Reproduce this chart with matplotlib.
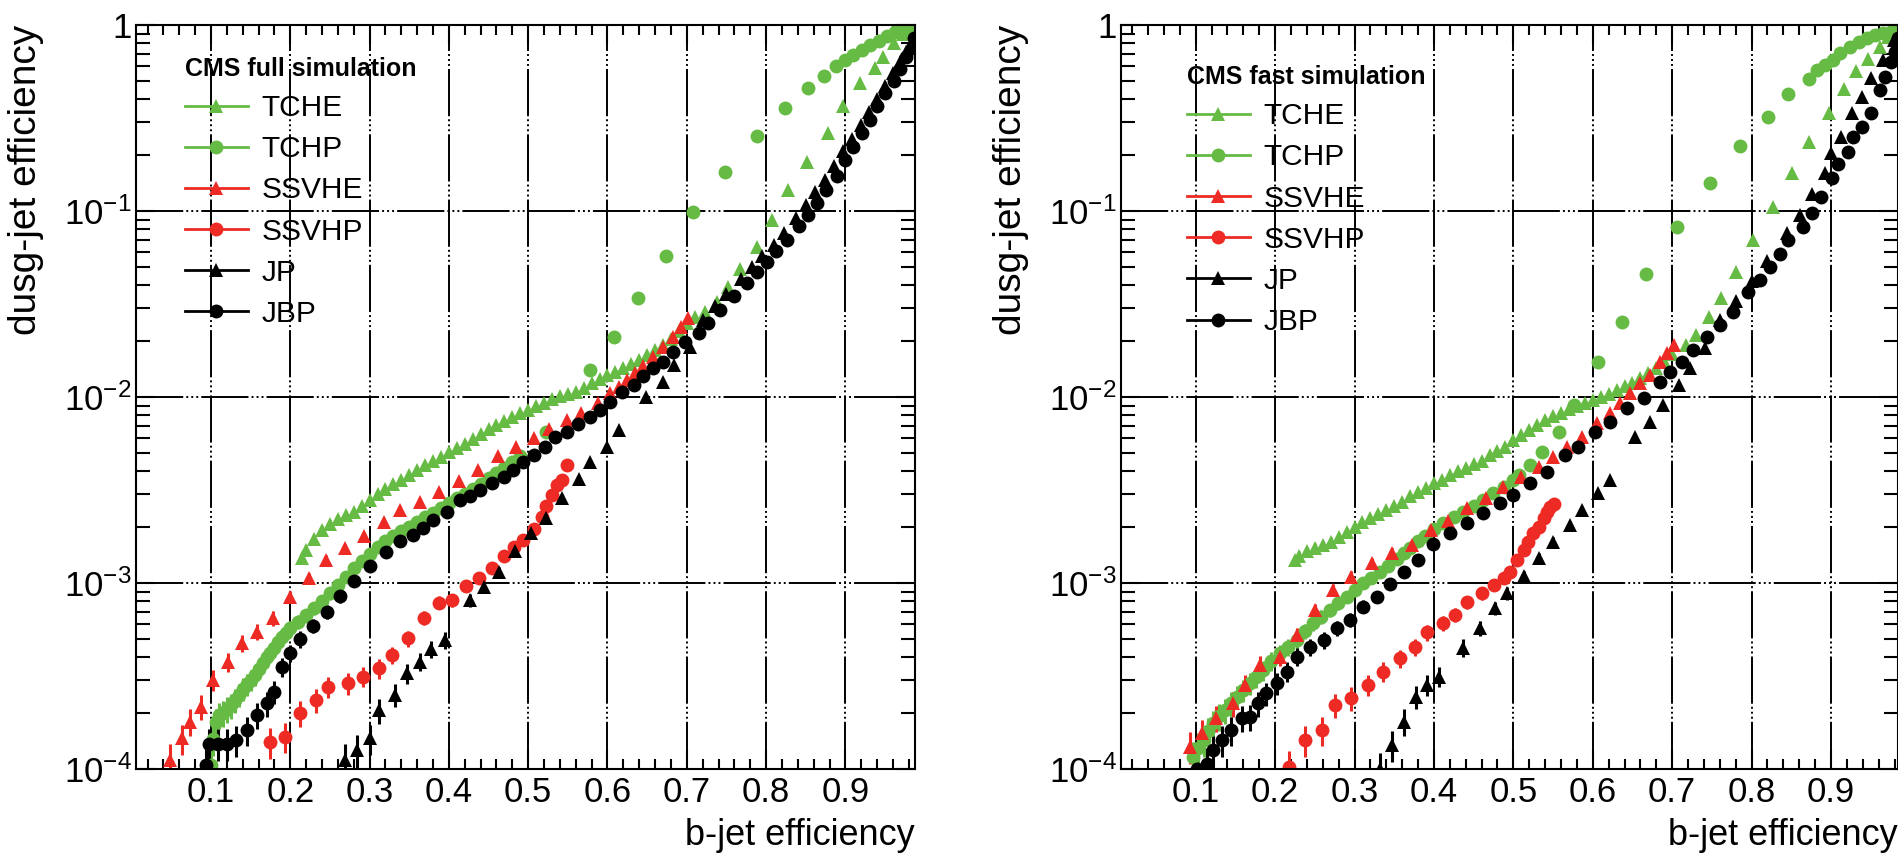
"""
b-tagging performance: light-jet mistag rate vs b-jet efficiency,
CMS full simulation (left) and fast simulation (right).
"""

import matplotlib.pyplot as plt
import numpy as np
from matplotlib.lines import Line2D
from matplotlib.ticker import LogLocator, MultipleLocator, NullFormatter

plt.rcParams["font.family"] = ["Liberation Sans", "DejaVu Sans"]
plt.rcParams["mathtext.fontset"] = "custom"
plt.rcParams["mathtext.rm"] = "Liberation Sans"
plt.rcParams["mathtext.it"] = "Liberation Sans:italic"
plt.rcParams["mathtext.bf"] = "Liberation Sans:bold"
plt.rcParams["lines.scale_dashes"] = False

# %% Full simulation
full_tche_x = [0.215, 0.22, 0.23, 0.24, 0.25, 0.26, 0.27, 0.28, 0.29, 0.30,
               0.31, 0.32, 0.33, 0.34, 0.35, 0.36, 0.37, 0.38, 0.39, 0.40,
               0.41, 0.42, 0.43, 0.44, 0.45, 0.46, 0.47, 0.48, 0.49, 0.50,
               0.51, 0.52, 0.53, 0.54, 0.55, 0.56, 0.57, 0.58, 0.59, 0.60,
               0.61, 0.62, 0.63, 0.64, 0.65, 0.66, 0.67, 0.68, 0.69, 0.70,
               0.710, 0.723, 0.738, 0.752, 0.767, 0.788, 0.807, 0.828, 0.852,
               0.878, 0.897, 0.918, 0.937, 0.947, 0.961, 0.973, 0.982]
full_tche_y = [1.36e-3, 1.50e-3, 1.72e-3, 1.92e-3, 2.08e-3, 2.22e-3, 2.32e-3,
               2.42e-3, 2.58e-3, 2.78e-3, 3.00e-3, 3.22e-3, 3.42e-3, 3.60e-3,
               3.82e-3, 4.05e-3, 4.30e-3, 4.55e-3, 4.78e-3, 5.05e-3, 5.30e-3,
               5.60e-3, 5.95e-3, 6.35e-3, 6.70e-3, 7.05e-3, 7.45e-3, 7.85e-3,
               8.20e-3, 8.50e-3, 8.90e-3, 9.30e-3, 9.70e-3, 1.01e-2, 1.04e-2,
               1.07e-2, 1.12e-2, 1.19e-2, 1.25e-2, 1.31e-2, 1.37e-2, 1.43e-2,
               1.50e-2, 1.58e-2, 1.68e-2, 1.79e-2, 1.90e-2, 2.05e-2, 2.25e-2,
               2.50e-2, 2.70e-2, 2.88e-2, 3.25e-2, 3.90e-2, 4.90e-2, 6.40e-2,
               8.95e-2, 0.130, 0.184, 0.264, 0.367, 0.486, 0.585, 0.676, 0.80,
               0.90, 0.95]

full_tchp_x = [0.100, 0.103, 0.106, 0.110, 0.115, 0.120, 0.125, 0.130, 0.135,
               0.140, 0.145, 0.150, 0.155, 0.160, 0.165, 0.170, 0.175, 0.180,
               0.185, 0.190, 0.195, 0.200, 0.210, 0.220, 0.230, 0.240, 0.250,
               0.260, 0.270, 0.280, 0.290, 0.300, 0.310, 0.320, 0.330, 0.340,
               0.350, 0.360, 0.370, 0.380, 0.390, 0.400, 0.410, 0.420, 0.430,
               0.440, 0.450, 0.460, 0.470, 0.480, 0.490, 0.523, 0.578, 0.608,
               0.638, 0.674, 0.708, 0.748, 0.789, 0.824, 0.853, 0.873, 0.888,
               0.900, 0.910, 0.921, 0.931, 0.942, 0.952, 0.963, 0.971, 0.982]
full_tchp_y = [1.05e-4, 1.45e-4, 1.80e-4, 1.95e-4, 2.00e-4, 2.10e-4, 2.20e-4,
               2.35e-4, 2.50e-4, 2.70e-4, 2.85e-4, 3.00e-4, 3.20e-4, 3.45e-4,
               3.70e-4, 4.00e-4, 4.20e-4, 4.50e-4, 4.80e-4, 5.10e-4, 5.40e-4,
               5.70e-4, 6.20e-4, 6.70e-4, 7.30e-4, 8.00e-4, 8.80e-4, 9.70e-4,
               1.08e-3, 1.20e-3, 1.32e-3, 1.44e-3, 1.56e-3, 1.68e-3, 1.80e-3,
               1.90e-3, 2.00e-3, 2.12e-3, 2.25e-3, 2.38e-3, 2.52e-3, 2.68e-3,
               2.85e-3, 3.02e-3, 3.22e-3, 3.42e-3, 3.65e-3, 3.90e-3, 4.15e-3,
               4.45e-3, 4.80e-3, 6.50e-3, 1.40e-2, 2.10e-2, 3.40e-2, 5.70e-2,
               9.90e-2, 0.163, 0.253, 0.357, 0.457, 0.533, 0.604, 0.648, 0.690,
               0.735, 0.780, 0.820, 0.870, 0.920, 0.950, 0.970]

full_ssvhe_x = [0.048, 0.063, 0.074, 0.088, 0.103, 0.122, 0.139, 0.158, 0.178,
                0.199, 0.224, 0.245, 0.269, 0.293, 0.318, 0.338, 0.364, 0.388,
                0.413, 0.437, 0.462, 0.484, 0.507, 0.526, 0.549, 0.567, 0.588,
                0.603, 0.614, 0.624, 0.635, 0.645, 0.658, 0.670, 0.683, 0.693,
                0.702]
full_ssvhe_y = [1.12e-4, 1.46e-4, 1.80e-4, 2.16e-4, 3.00e-4, 3.77e-4, 4.74e-4,
                5.47e-4, 6.46e-4, 8.43e-4, 1.06e-3, 1.33e-3, 1.54e-3, 1.79e-3,
                2.14e-3, 2.47e-3, 2.74e-3, 3.10e-3, 3.52e-3, 4.07e-3, 4.80e-3,
                5.40e-3, 6.00e-3, 6.70e-3, 7.50e-3, 8.20e-3, 9.25e-3, 1.05e-2,
                1.13e-2, 1.23e-2, 1.34e-2, 1.46e-2, 1.65e-2, 1.86e-2, 2.10e-2,
                2.39e-2, 2.65e-2]

full_ssvhp_x = [0.174, 0.193, 0.212, 0.233, 0.248, 0.273, 0.292, 0.312, 0.328,
                0.349, 0.368, 0.387, 0.404, 0.422, 0.438, 0.454, 0.469, 0.482,
                0.494, 0.507, 0.517, 0.523, 0.530, 0.536, 0.542, 0.549]
full_ssvhp_y = [1.40e-4, 1.49e-4, 2.00e-4, 2.35e-4, 2.77e-4, 2.89e-4, 3.14e-4,
                3.47e-4, 4.10e-4, 5.05e-4, 6.50e-4, 7.85e-4, 8.10e-4, 9.65e-4,
                1.07e-3, 1.20e-3, 1.40e-3, 1.57e-3, 1.70e-3, 1.95e-3, 2.27e-3,
                2.60e-3, 2.97e-3, 3.37e-3, 3.58e-3, 4.30e-3]

full_jp_x = [0.269, 0.284, 0.300, 0.312, 0.332, 0.347, 0.364, 0.378, 0.395,
             0.427, 0.444, 0.463, 0.483, 0.503, 0.522, 0.542, 0.564, 0.578,
             0.599, 0.614, 0.649, 0.670, 0.684, 0.704, 0.720, 0.735, 0.750,
             0.768, 0.782, 0.795, 0.810, 0.822, 0.838, 0.850, 0.862, 0.874,
             0.886, 0.897, 0.908, 0.920, 0.930, 0.940, 0.950, 0.960, 0.969,
             0.977, 0.984]
full_jp_y = [1.12e-4, 1.27e-4, 1.46e-4, 2.07e-4, 2.50e-4, 3.27e-4, 3.78e-4,
             4.40e-4, 4.94e-4, 8.10e-4, 9.55e-4, 1.14e-3, 1.48e-3, 1.85e-3,
             2.23e-3, 2.88e-3, 3.62e-3, 4.49e-3, 5.40e-3, 6.65e-3, 1.00e-2,
             1.21e-2, 1.49e-2, 1.86e-2, 2.60e-2, 3.10e-2, 3.60e-2, 4.30e-2,
             5.00e-2, 5.70e-2, 6.60e-2, 7.60e-2, 9.20e-2, 0.108, 0.126, 0.146,
             0.175, 0.210, 0.245, 0.290, 0.340, 0.400, 0.470, 0.550, 0.630,
             0.720, 0.800]

full_jbp_x = [0.094, 0.097, 0.109, 0.120, 0.132, 0.145, 0.158, 0.170, 0.179,
              0.189, 0.200, 0.212, 0.229, 0.246, 0.263, 0.280, 0.300, 0.321,
              0.338, 0.355, 0.367, 0.380, 0.397, 0.414, 0.427, 0.439, 0.454,
              0.469, 0.481, 0.494, 0.507, 0.521, 0.534, 0.549, 0.563, 0.578,
              0.591, 0.603, 0.618, 0.633, 0.645, 0.658, 0.670, 0.683, 0.698,
              0.715, 0.727, 0.742, 0.759, 0.776, 0.788, 0.801, 0.813, 0.826,
              0.841, 0.853, 0.864, 0.876, 0.889, 0.900, 0.910, 0.921, 0.931,
              0.940, 0.950, 0.961, 0.969, 0.977, 0.984, 0.987]
full_jbp_y = [1.05e-4, 1.37e-4, 1.37e-4, 1.37e-4, 1.43e-4, 1.62e-4, 1.95e-4,
              2.25e-4, 2.60e-4, 3.55e-4, 4.20e-4, 5.00e-4, 5.90e-4, 7.00e-4,
              8.50e-4, 1.03e-3, 1.23e-3, 1.46e-3, 1.68e-3, 1.82e-3, 1.97e-3,
              2.18e-3, 2.42e-3, 2.79e-3, 2.95e-3, 3.16e-3, 3.43e-3, 3.73e-3,
              4.05e-3, 4.49e-3, 4.88e-3, 5.40e-3, 6.12e-3, 6.50e-3, 7.20e-3,
              7.80e-3, 8.50e-3, 9.45e-3, 1.07e-2, 1.16e-2, 1.29e-2, 1.43e-2,
              1.55e-2, 1.75e-2, 1.98e-2, 2.20e-2, 2.50e-2, 2.95e-2, 3.50e-2,
              4.10e-2, 4.70e-2, 5.30e-2, 6.10e-2, 7.00e-2, 8.30e-2, 9.50e-2,
              0.110, 0.130, 0.155, 0.188, 0.222, 0.262, 0.310, 0.365, 0.430,
              0.500, 0.580, 0.670, 0.750, 0.850]

# %% Fast simulation
fast_tche_x = [0.225, 0.23, 0.24, 0.25, 0.26, 0.27, 0.28, 0.29, 0.30, 0.31,
               0.32, 0.33, 0.34, 0.35, 0.36, 0.37, 0.38, 0.39, 0.40, 0.41,
               0.42, 0.43, 0.44, 0.45, 0.46, 0.47, 0.48, 0.49, 0.50, 0.51,
               0.52, 0.53, 0.54, 0.55, 0.56, 0.57, 0.58, 0.59, 0.60, 0.61,
               0.62, 0.63, 0.64, 0.65, 0.66, 0.67, 0.68, 0.69, 0.70, 0.717,
               0.730, 0.746, 0.762, 0.781, 0.802, 0.827, 0.851, 0.872, 0.897,
               0.916, 0.932, 0.947, 0.962, 0.972, 0.979]
fast_tche_y = [1.33e-3, 1.40e-3, 1.48e-3, 1.55e-3, 1.60e-3, 1.67e-3, 1.76e-3,
               1.88e-3, 2.01e-3, 2.12e-3, 2.23e-3, 2.36e-3, 2.47e-3, 2.60e-3,
               2.74e-3, 2.92e-3, 3.08e-3, 3.25e-3, 3.43e-3, 3.60e-3, 3.80e-3,
               3.98e-3, 4.14e-3, 4.35e-3, 4.55e-3, 4.85e-3, 5.10e-3, 5.40e-3,
               5.87e-3, 6.25e-3, 6.65e-3, 7.07e-3, 7.50e-3, 7.90e-3, 8.25e-3,
               8.60e-3, 8.95e-3, 9.30e-3, 9.65e-3, 1.00e-2, 1.04e-2, 1.09e-2,
               1.14e-2, 1.19e-2, 1.26e-2, 1.34e-2, 1.44e-2, 1.56e-2, 1.70e-2,
               1.90e-2, 2.15e-2, 2.68e-2, 3.40e-2, 4.72e-2, 6.98e-2, 0.105,
               0.160, 0.236, 0.335, 0.451, 0.566, 0.655, 0.760, 0.860, 0.920]

fast_tchp_x = [0.097, 0.103, 0.110, 0.116, 0.122, 0.129, 0.137, 0.144, 0.152,
               0.160, 0.168, 0.176, 0.185, 0.195, 0.206, 0.216, 0.227, 0.237,
               0.248, 0.258, 0.269, 0.279, 0.290, 0.300, 0.311, 0.321, 0.332,
               0.342, 0.353, 0.362, 0.370, 0.380, 0.389, 0.400, 0.412, 0.425,
               0.437, 0.450, 0.462, 0.475, 0.488, 0.500, 0.507, 0.521, 0.536,
               0.557, 0.576, 0.606, 0.637, 0.667, 0.706, 0.748, 0.786, 0.821,
               0.846, 0.872, 0.882, 0.893, 0.903, 0.911, 0.924, 0.935, 0.945,
               0.956, 0.966, 0.977]
fast_tchp_y = [1.16e-4, 1.30e-4, 1.43e-4, 1.60e-4, 1.76e-4, 1.92e-4, 2.07e-4,
               2.25e-4, 2.45e-4, 2.65e-4, 2.89e-4, 3.12e-4, 3.40e-4, 3.80e-4,
               4.19e-4, 4.55e-4, 4.94e-4, 5.50e-4, 6.07e-4, 6.60e-4, 7.16e-4,
               7.80e-4, 8.43e-4, 9.20e-4, 9.95e-4, 1.07e-3, 1.14e-3, 1.24e-3,
               1.35e-3, 1.45e-3, 1.55e-3, 1.68e-3, 1.80e-3, 1.95e-3, 2.10e-3,
               2.25e-3, 2.42e-3, 2.60e-3, 2.80e-3, 3.05e-3, 3.30e-3, 3.60e-3,
               3.80e-3, 4.30e-3, 5.08e-3, 6.50e-3, 9.06e-3, 1.55e-2, 2.54e-2,
               4.58e-2, 8.24e-2, 0.142, 0.224, 0.321, 0.424, 0.510, 0.573,
               0.610, 0.648, 0.705, 0.766, 0.810, 0.850, 0.880, 0.910, 0.930]

fast_ssvhe_x = [0.093, 0.108, 0.126, 0.147, 0.162, 0.181, 0.206, 0.227, 0.250,
                0.273, 0.296, 0.322, 0.347, 0.372, 0.396, 0.418, 0.441, 0.465,
                0.487, 0.510, 0.532, 0.550, 0.567, 0.586, 0.605, 0.622, 0.634,
                0.647, 0.660, 0.672, 0.685, 0.693, 0.702]
fast_ssvhe_y = [1.32e-4, 1.56e-4, 1.88e-4, 2.25e-4, 2.83e-4, 3.62e-4, 4.02e-4,
                5.25e-4, 7.16e-4, 9.17e-4, 1.08e-3, 1.28e-3, 1.45e-3, 1.60e-3,
                1.93e-3, 2.16e-3, 2.52e-3, 2.88e-3, 3.30e-3, 3.70e-3, 4.22e-3,
                4.78e-3, 5.40e-3, 6.12e-3, 7.22e-3, 8.17e-3, 9.25e-3, 1.05e-2,
                1.19e-2, 1.31e-2, 1.55e-2, 1.72e-2, 1.90e-2]

fast_ssvhp_x = [0.217, 0.238, 0.259, 0.276, 0.296, 0.317, 0.336, 0.357, 0.376,
                0.391, 0.411, 0.427, 0.442, 0.461, 0.476, 0.488, 0.496, 0.504,
                0.513, 0.519, 0.525, 0.532, 0.538, 0.542, 0.546, 0.551]
fast_ssvhp_y = [1.03e-4, 1.43e-4, 1.62e-4, 2.21e-4, 2.40e-4, 2.83e-4, 3.33e-4,
                3.93e-4, 4.55e-4, 5.42e-4, 6.07e-4, 6.75e-4, 7.92e-4, 8.80e-4,
                9.70e-4, 1.06e-3, 1.15e-3, 1.33e-3, 1.50e-3, 1.67e-3, 1.85e-3,
                2.01e-3, 2.23e-3, 2.41e-3, 2.57e-3, 2.66e-3]

fast_jp_x = [0.332, 0.347, 0.362, 0.378, 0.391, 0.406, 0.437, 0.458, 0.477,
             0.492, 0.513, 0.532, 0.550, 0.571, 0.586, 0.607, 0.622, 0.653,
             0.672, 0.688, 0.708, 0.723, 0.741, 0.760, 0.780, 0.800, 0.820,
             0.845, 0.861, 0.876, 0.893, 0.900, 0.913, 0.926, 0.939, 0.951,
             0.966, 0.979]
fast_jp_y = [1.00e-4, 1.35e-4, 1.80e-4, 2.45e-4, 2.83e-4, 3.14e-4, 4.50e-4,
             5.70e-4, 7.31e-4, 8.80e-4, 1.09e-3, 1.36e-3, 1.67e-3, 2.05e-3,
             2.47e-3, 3.03e-3, 3.58e-3, 6.12e-3, 7.36e-3, 9.06e-3, 1.16e-2,
             1.43e-2, 1.83e-2, 2.60e-2, 3.30e-2, 4.20e-2, 5.40e-2, 7.60e-2,
             9.50e-2, 0.124, 0.160, 0.204, 0.250, 0.335, 0.412, 0.516, 0.648,
             0.830]

fast_jbp_x = [0.101, 0.114, 0.122, 0.133, 0.145, 0.158, 0.168, 0.179, 0.189,
              0.202, 0.215, 0.227, 0.244, 0.261, 0.278, 0.294, 0.311, 0.328,
              0.345, 0.362, 0.380, 0.399, 0.420, 0.441, 0.462, 0.483, 0.500,
              0.521, 0.542, 0.565, 0.582, 0.603, 0.622, 0.643, 0.664, 0.685,
              0.697, 0.712, 0.726, 0.744, 0.760, 0.777, 0.796, 0.811, 0.823,
              0.836, 0.846, 0.865, 0.876, 0.888, 0.901, 0.909, 0.922, 0.928,
              0.939, 0.951, 0.962, 0.968, 0.975, 0.980, 0.984]
fast_jbp_y = [1.00e-4, 1.07e-4, 1.26e-4, 1.43e-4, 1.62e-4, 1.88e-4, 1.91e-4,
              2.25e-4, 2.55e-4, 2.89e-4, 3.33e-4, 4.02e-4, 4.55e-4, 4.94e-4,
              5.70e-4, 6.33e-4, 7.47e-4, 8.43e-4, 9.90e-4, 1.15e-3, 1.33e-3,
              1.63e-3, 1.85e-3, 2.09e-3, 2.37e-3, 2.68e-3, 2.97e-3, 3.43e-3,
              3.97e-3, 4.88e-3, 5.40e-3, 6.50e-3, 7.36e-3, 8.69e-3, 9.84e-3,
              1.21e-2, 1.37e-2, 1.55e-2, 1.79e-2, 2.11e-2, 2.44e-2, 2.88e-2,
              3.68e-2, 4.26e-2, 5.00e-2, 5.90e-2, 6.98e-2, 8.24e-2, 9.73e-2,
              0.119, 0.150, 0.180, 0.208, 0.251, 0.284, 0.335, 0.447, 0.527,
              0.635, 0.720, 0.850]

labels = ["TCHE", "TCHP", "SSVHE", "SSVHP", "JP", "JBP"]
green = "#66bb44"
red = "#ee2a24"
black = "#000000"
colors = [green, green, red, red, black, black]
markers = ["^", "o", "^", "o", "^", "o"]

full_series = [(full_tche_x, full_tche_y), (full_tchp_x, full_tchp_y),
               (full_ssvhe_x, full_ssvhe_y), (full_ssvhp_x, full_ssvhp_y),
               (full_jp_x, full_jp_y), (full_jbp_x, full_jbp_y)]
fast_series = [(fast_tche_x, fast_tche_y), (fast_tchp_x, fast_tchp_y),
               (fast_ssvhe_x, fast_ssvhe_y), (fast_ssvhp_x, fast_ssvhp_y),
               (fast_jp_x, fast_jp_y), (fast_jbp_x, fast_jbp_y)]

N_LIGHT = 2.0e5  # light-jet statistics behind the (binomial-ish) error bars

ytick_vals = [1e-4, 1e-3, 1e-2, 1e-1, 1]
ytick_labels = ["$10^{-4}$", "$10^{-3}$", "$10^{-2}$", "$10^{-1}$", "1"]
xtick_vals = [0.1, 0.2, 0.3, 0.4, 0.5, 0.6, 0.7, 0.8, 0.9]

grid_style = (0, (34, 2.2, 1.4, 2.2, 1.4, 2.2, 1.4, 2.2))

W, H = 1899, 856
fig = plt.figure(figsize=(W / 100, H / 100), dpi=100)


def draw_panel(ax, series, title, xlim, leg_xy):
    for (x, y), c, m, lab in zip(series, colors, markers, labels):
        x = np.asarray(x)
        y = np.asarray(y)
        ax.errorbar(x, y, yerr=np.sqrt(y / N_LIGHT), fmt=m, color=c,
                    ms=10, mew=0, elinewidth=2.2, capsize=0, label=lab)

    ax.set_yscale("log")
    ax.set_xlim(*xlim)
    ax.set_ylim(1e-4, 1)
    ax.set_xticks(xtick_vals)
    ax.set_xticklabels([f"{v:.1f}" for v in xtick_vals])
    ax.xaxis.set_minor_locator(MultipleLocator(0.02))
    ax.set_yticks(ytick_vals)
    ax.set_yticklabels(ytick_labels)
    ax.yaxis.set_minor_locator(LogLocator(base=10, subs=np.arange(2, 10)))
    ax.yaxis.set_minor_formatter(NullFormatter())

    ax.tick_params(which="both", direction="in", top=True, right=True,
                   width=1.5, labelsize=25)
    ax.tick_params(which="major", length=14)
    ax.tick_params(axis="x", which="minor", length=7)
    ax.tick_params(axis="y", which="minor", length=10)
    ax.tick_params(axis="x", pad=5)
    ax.tick_params(axis="y", pad=3)
    for sp in ax.spines.values():
        sp.set_linewidth(1.5)

    ax.grid(True, which="major", color="black", lw=1.4, linestyle=grid_style)
    ax.set_axisbelow(True)

    ax.set_xlabel("b-jet efficiency", fontsize=26, loc="right")
    ax.xaxis.set_label_coords(1.0, -0.066)
    ax.set_ylabel("dusg-jet efficiency", fontsize=28, loc="top")
    ax.yaxis.set_label_coords(-0.118, 1.0)

    handles = [Line2D([], [], color=c, marker=m, ms=10, mew=0, lw=2)
               for c, m in zip(colors, markers)]
    ax.legend(handles, labels, loc="upper left", bbox_to_anchor=leg_xy,
              title=title, alignment="left", frameon=False, fontsize=21.5,
              title_fontproperties={"weight": "bold", "size": 18},
              handlelength=2.1, handletextpad=0.45, labelspacing=0.44,
              borderpad=0, borderaxespad=0)


ax1 = fig.add_axes([136 / W, 1 - 769 / H, 779 / W, 744 / H])
draw_panel(ax1, full_series, "CMS full simulation", (0.0054, 0.9878),
           (0.063, 0.957))

ax2 = fig.add_axes([1121 / W, 1 - 769 / H, 777 / W, 744 / H])
draw_panel(ax2, fast_series, "CMS fast simulation", (0.0059, 0.9844),
           (0.085, 0.946))

fig.savefig("out.png", dpi=100)
